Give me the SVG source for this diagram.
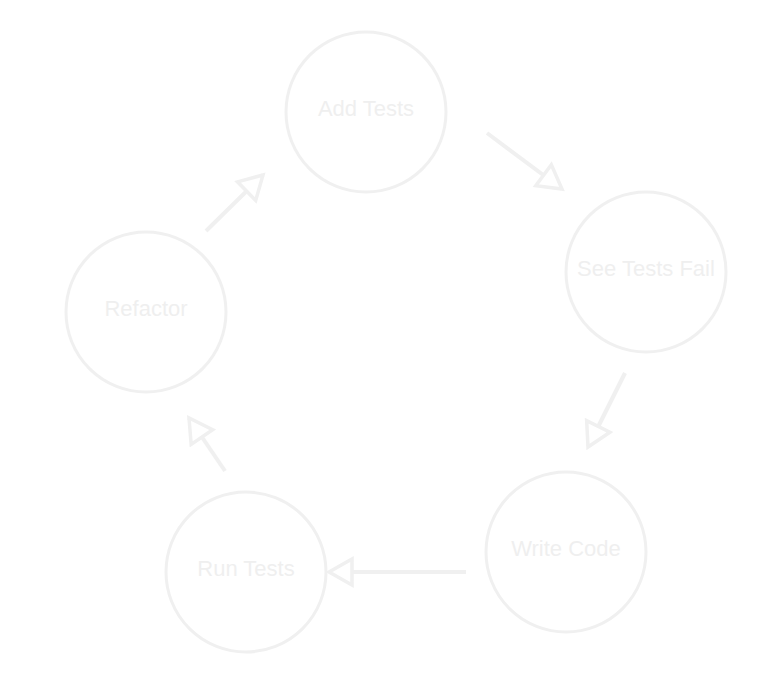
<svg xmlns="http://www.w3.org/2000/svg" width="772" height="675" viewBox="0 0 772 675">
<style>
.node circle{fill:none;stroke:#f0f0f0;stroke-width:3}
.node text{fill:#efefef;font-family:"Liberation Sans",Arial,sans-serif;font-size:22px;text-anchor:middle;dominant-baseline:central}
.edge{stroke:#f0f0f0;stroke-width:4;fill:none;marker-end:url(#arr)}
</style>
<defs>
<marker id="arr" markerUnits="userSpaceOnUse" viewBox="0 0 30 32" markerWidth="30" markerHeight="32" refX="26" refY="16" orient="auto">
<path d="M3,3 L26,16 L3,29 z" fill="#fff" stroke="#f0f0f0" stroke-width="3.5"/>
</marker>
</defs>
<rect width="772" height="675" fill="#fff"/>
<g id="connectors">
<line class="edge" x1="487" y1="133" x2="562" y2="189"/>
<line class="edge" x1="625" y1="373" x2="588" y2="447"/>
<line class="edge" x1="466" y1="572" x2="329" y2="572"/>
<line class="edge" x1="225" y1="471" x2="189" y2="418"/>
<line class="edge" x1="206" y1="231" x2="263" y2="175"/>
</g>
<g id="add-tests" class="node"><circle cx="366" cy="112" r="80"/><text x="366" y="108">Add Tests</text></g>
<g id="see-tests-fail" class="node"><circle cx="646" cy="272" r="80"/><text x="646" y="268">See Tests Fail</text></g>
<g id="write-code" class="node"><circle cx="566" cy="552" r="80"/><text x="566" y="548">Write Code</text></g>
<g id="run-tests" class="node"><circle cx="246" cy="572" r="80"/><text x="246" y="568">Run Tests</text></g>
<g id="refactor" class="node"><circle cx="146" cy="312" r="80"/><text x="146" y="308">Refactor</text></g>
</svg>
